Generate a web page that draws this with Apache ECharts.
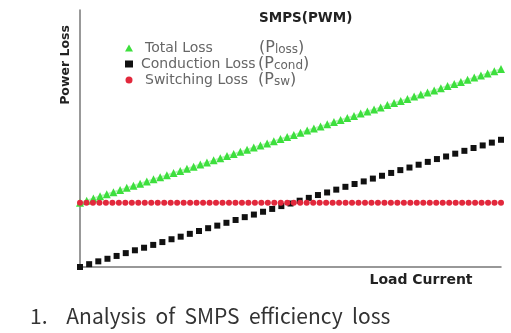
<!DOCTYPE html>
<html>
<head>
<meta charset="utf-8">
<script src="https://cdn.jsdelivr.net/npm/echarts@6/dist/echarts.min.js"></script>
<style>
  html, body { margin: 0; padding: 0; background: #fff; }
  #chart { width: 511px; height: 333px; }
</style>
</head>
<body>
<div id="chart"></div>
<script>
// valores (escala 0-100 de pérdida)
const totalLoss = [
  25.0, 25.8, 26.7, 27.5, 28.3, 29.1, 30.0, 30.8, 31.6, 32.4,
  33.3, 34.1, 34.9, 35.7, 36.6, 37.4, 38.2, 39.0, 39.9, 40.7,
  41.5, 42.3, 43.2, 44.0, 44.8, 45.6, 46.5, 47.3, 48.1, 48.9,
  49.8, 50.6, 51.4, 52.2, 53.1, 53.9, 54.7, 55.5, 56.4, 57.2,
  58.0, 58.8, 59.7, 60.5, 61.3, 62.1, 63.0, 63.8, 64.6, 65.4,
  66.3, 67.1, 67.9, 68.7, 69.6, 70.4, 71.2, 72.0, 72.9, 73.7,
  74.5, 75.3, 76.2, 77.0
];
const conductionLoss = [
  0.0, 1.1, 2.2, 3.2, 4.3, 5.4, 6.5, 7.5, 8.6, 9.7,
  10.8, 11.8, 12.9, 14.0, 15.1, 16.1, 17.2, 18.3, 19.4, 20.4,
  21.5, 22.6, 23.7, 24.7, 25.8, 26.9, 28.0, 29.0, 30.1, 31.2,
  32.3, 33.3, 34.4, 35.5, 36.6, 37.7, 38.7, 39.8, 40.9, 42.0,
  43.0, 44.1, 45.2, 46.3, 47.3, 48.4, 49.5
];
const switchingLoss = [
  25, 25, 25, 25, 25, 25, 25, 25, 25, 25,
  25, 25, 25, 25, 25, 25, 25, 25, 25, 25,
  25, 25, 25, 25, 25, 25, 25, 25, 25, 25,
  25, 25, 25, 25, 25, 25, 25, 25, 25, 25,
  25, 25, 25, 25, 25, 25, 25, 25, 25, 25,
  25, 25, 25, 25, 25, 25, 25, 25, 25, 25,
  25, 25, 25, 25, 25, 25
];
const seriesNames = ['Total Loss', 'Conduction Loss', 'Switching Loss'];
const seriesSymbols = ['(P|loss)', '(P|cond)', '(P|sw)'];

const idx = (arr) => arr.map((_, i) => String(i));

const chart = echarts.init(document.getElementById('chart'));

const rich = {
  n0: { fontFamily: 'DejaVu Sans', fontSize: 14, color: '#666', width: 114, padding: [0, 0, 0, 7] },
  n1: { fontFamily: 'DejaVu Sans', fontSize: 14, color: '#666', width: 117, padding: [0, 0, 0, 3] },
  n2: { fontFamily: 'DejaVu Sans', fontSize: 14, color: '#666', width: 113, padding: [0, 0, 0, 7] },
  p: { fontFamily: 'DejaVu Sans', fontSize: 16, color: '#666' },
  s: { fontFamily: 'DejaVu Sans', fontSize: 12, color: '#666', padding: [3, 0, 0, 0] },
};

chart.setOption({
  animation: false,
  title: {
    text: 'SMPS(PWM)',
    left: 254,
    top: 6,
    textStyle: { fontFamily: 'DejaVu Sans', fontWeight: 'bold', fontSize: 13.5, color: '#222' },
  },
  legend: {
    orient: 'vertical',
    left: 120,
    top: 35,
    itemWidth: 8,
    itemHeight: 7,
    itemGap: 0,
    data: [
      { name: seriesNames[0], icon: 'triangle' },
      { name: seriesNames[1], icon: 'rect' },
      { name: seriesNames[2], icon: 'circle' },
    ],
    formatter: (name) => {
      const i = seriesNames.indexOf(name);
      const [pre, sub] = seriesSymbols[i].split('|');
      return `{n${i}|${name}}{p|${pre}}{s|${sub.replace(')', '')}}{p|)}`;
    },
    textStyle: { rich },
  },
  grid: { left: 80, right: 10, top: 10, bottom: 66 },
  xAxis: [
    {
      type: 'category', data: idx(totalLoss), boundaryGap: false,
      axisLine: { lineStyle: { color: '#777', width: 1.5 } },
      axisTick: { show: false }, axisLabel: { show: false },
    },
    { type: 'category', data: idx(conductionLoss), boundaryGap: false, show: false },
    { type: 'category', data: idx(switchingLoss), boundaryGap: false, show: false },
  ],
  yAxis: {
    type: 'value', min: 0, max: 100,
    axisLine: { show: true, lineStyle: { color: '#777', width: 1.5 } },
    axisTick: { show: false }, axisLabel: { show: false }, splitLine: { show: false },
  },
  graphic: [
    {
      type: 'text', x: 66, y: 65, rotation: Math.PI / 2,
      style: { text: 'Power Loss', fontFamily: 'DejaVu Sans', fontWeight: 'bold', fontSize: 12.5, fill: '#222', align: 'center', verticalAlign: 'middle' },
    },
    {
      type: 'text', x: 421, y: 280,
      style: { text: 'Load Current', fontFamily: 'DejaVu Sans', fontWeight: 'bold', fontSize: 14, fill: '#222', align: 'center', verticalAlign: 'middle' },
    },
    {
      type: 'text', x: 30, y: 316,
      style: { text: '1.    Analysis  of  SMPS  efficiency  loss', fontFamily: 'Noto Sans CJK KR', fontSize: 21, fill: '#333', align: 'left', verticalAlign: 'middle' },
    },
  ],
  series: [
    {
      name: seriesNames[0], type: 'line', xAxisIndex: 0, data: totalLoss,
      symbol: 'triangle', symbolSize: 8, showSymbol: true, showAllSymbol: true,
      itemStyle: { color: '#3ddf3d' },
      lineStyle: { width: 2, color: '#3ddf3d', opacity: 0.35 },
    },
    {
      name: seriesNames[1], type: 'line', xAxisIndex: 1, data: conductionLoss,
      symbol: 'rect', symbolSize: 6, showSymbol: true, showAllSymbol: true,
      itemStyle: { color: '#111' },
      lineStyle: { width: 0 },
    },
    {
      name: seriesNames[2], type: 'line', xAxisIndex: 2, data: switchingLoss,
      symbol: 'circle', symbolSize: 6, showSymbol: true, showAllSymbol: true,
      itemStyle: { color: '#e2283c' },
      lineStyle: { width: 2, color: '#e2283c', opacity: 0.2 },
    },
  ],
});
</script>
</body>
</html>
